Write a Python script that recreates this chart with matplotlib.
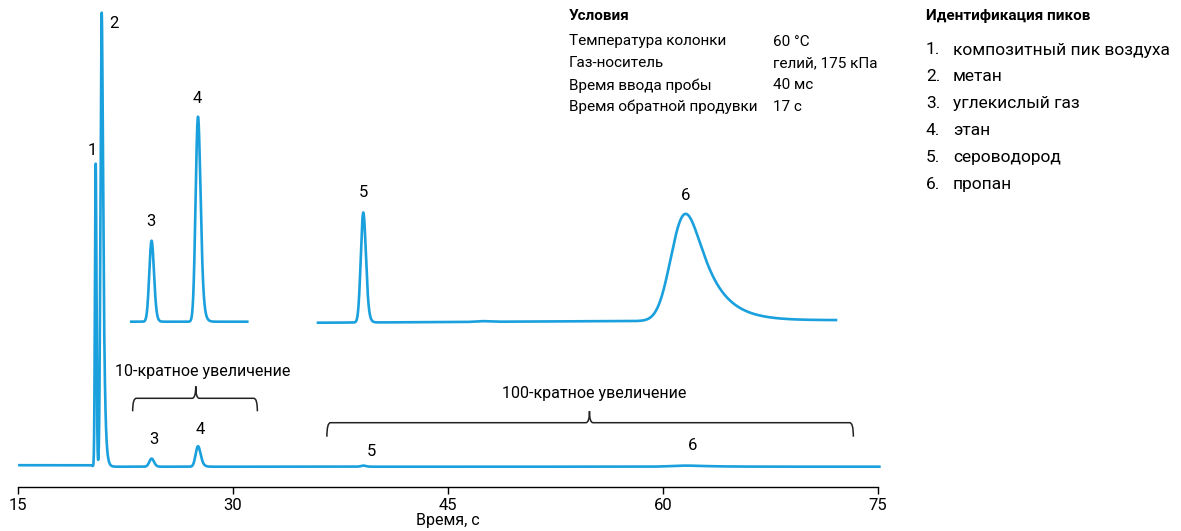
import numpy as np
import matplotlib.pyplot as plt
from matplotlib.path import Path
from matplotlib.patches import PathPatch

plt.rcParams['font.family'] = ['Roboto', 'DejaVu Sans']

# =============================================================================
# peak table (time in s, height in detector units)
# =============================================================================
peak_ids    = ['1', '2', '3', '4', '5', '6']
peak_time   = [20.42, 20.84, 24.32, 27.56, 39.09, 61.58]
peak_height = [303.0, 454.0, 8.1, 20.5, 1.10, 1.07]
peak_sigma  = [0.05, 0.07, 0.15, 0.15, 0.16, 0.80]
peak_tau    = [0.02, 0.10, 0.08, 0.12, 0.10, 1.50]

# baseline anchor points (step before peak 1, slow drift, small bump)
base_time  = [15.0, 20.1, 20.3, 36.0, 46.3, 47.4, 48.5, 72.0, 75.5]
base_level = [1.5, 1.5, 0.0, 0.0, 0.007, 0.016, 0.010, 0.025, 0.025]

peak_names = ['композитный пик воздуха', 'метан', 'углекислый газ',
              'этан', 'сероводород', 'пропан']

cond_names  = ['Температура колонки', 'Газ-носитель',
               'Время ввода пробы', 'Время обратной продувки']
cond_values = ['60 °C', 'гелий, 175 кПа', '40 мс', '17 с']

# zoomed windows: (start, end, magnification, vertical offset)
zoom_win = [(22.9, 31.0, 10, 145.0), (35.93, 72.07, 100, 144.0)]

# =============================================================================
# build trace
# =============================================================================
t = np.arange(15.1, 75.1, 0.005)


def peak_shape(tt, t0, h, s, tau):
    # gaussian smeared by an exponential tail, scaled to apex height
    dx = 0.002
    x = np.arange(-6 * s, 6 * s + 12 * tau, dx)
    g = np.exp(-0.5 * (x / s) ** 2)
    k = np.exp(-np.arange(0, 12 * tau, dx) / tau)
    c = np.convolve(g, k)[:len(x)]
    c = c / c.max()
    x = x - x[np.argmax(c)] + t0
    return h * np.interp(tt, x, c, left=0, right=0)


sig = np.interp(t, base_time, base_level)
for i in range(len(peak_ids)):
    sig = sig + peak_shape(t, peak_time[i], peak_height[i],
                           peak_sigma[i], peak_tau[i])

blue = '#1aa0dc'

fig = plt.figure(figsize=(11.81, 5.31), dpi=100)
ax = fig.add_axes([18 / 1181, 44.3 / 531, 860 / 1181, 486.7 / 531])
ax.set_xlim(15, 75)
ax.set_ylim(-20, 466.7)

ax.plot(t, sig, color=blue, lw=1.9, clip_on=False, solid_joinstyle='round')

for (a, b, mag, off) in zoom_win:
    m = (t >= a) & (t <= b)
    ax.plot(t[m], off + mag * sig[m], color=blue, lw=1.9,
            solid_joinstyle='round')


# curly brackets over the zoomed regions
def bracket(x0, x1, xc, y, drop, rise):
    r = 0.25
    verts = [(x0, y - drop), (x0, y), (x0 + r, y),
             (xc - r, y), (xc, y), (xc, y + rise),
             (xc, y + rise), (xc, y), (xc + r, y),
             (x1 - r, y), (x1, y), (x1, y - drop)]
    codes = [Path.MOVETO, Path.CURVE3, Path.CURVE3,
             Path.LINETO, Path.CURVE3, Path.CURVE3,
             Path.MOVETO, Path.CURVE3, Path.CURVE3,
             Path.LINETO, Path.CURVE3, Path.CURVE3]
    ax.add_patch(PathPatch(Path(verts, codes), fc='none', ec='#222222', lw=1.1))


bracket(23.0, 31.7, 27.4, 68.4, 13.0, 12.0)
bracket(36.55, 73.28, 54.87, 44.0, 14.0, 11.5)
ax.text(27.9, 95.5, '10-кратное увеличение', ha='center', va='center', fontsize=11.5)
ax.text(55.2, 73.5, '100-кратное увеличение', ha='center', va='center', fontsize=11.5)

# peak labels
lab_main = [(20.17, 316.0), (21.72, 443.4), (24.49, 26.7), (27.7, 36.7),
            (39.63, 15.7), (62.09, 20.7)]
lab_zoom = [(24.28, 245.0), (27.54, 368.4), (39.07, 274.0), (61.58, 271.7)]
for i, (x, y) in enumerate(lab_main):
    ax.text(x, y, peak_ids[i], ha='center', va='center', fontsize=12)
for i, (x, y) in enumerate(lab_zoom):
    ax.text(x, y, peak_ids[i + 2], ha='center', va='center', fontsize=12)

for s in ['left', 'right', 'top']:
    ax.spines[s].set_visible(False)
ax.spines['bottom'].set_linewidth(1.0)
ax.set_yticks([])
ax.set_xticks([15, 30, 45, 60, 75])
ax.tick_params(axis='x', direction='out', length=5, width=1, labelsize=12, pad=3)
ax.set_xlabel('Время, с', fontsize=11.5, labelpad=0)


def ftext(x, y, s, **kw):
    fig.text(x / 1181, 1 - y / 531, s, va='center', **kw)


# conditions block
ftext(569, 16, 'Условия', fontsize=11, fontweight='bold')
for i in range(len(cond_names)):
    ftext(569, 41.5 + 21.9 * i, cond_names[i], fontsize=11)
    ftext(773, 41.5 + 21.9 * i, cond_values[i], fontsize=11)

# peak identification block
ftext(926, 16, 'Идентификация пиков', fontsize=11, fontweight='bold')
for i in range(len(peak_names)):
    ftext(926, 50 + 26.9 * i, peak_ids[i] + '.', fontsize=12.5)
    ftext(953, 50 + 26.9 * i, peak_names[i], fontsize=12.5)

fig.savefig('out.png', dpi=100)
